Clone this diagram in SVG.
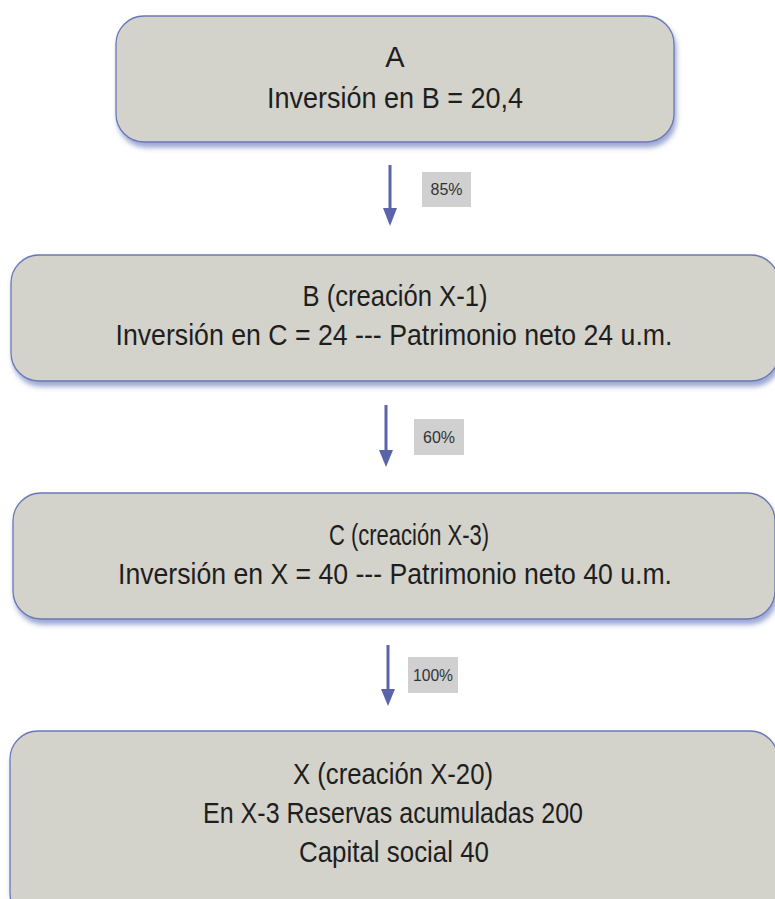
<svg xmlns="http://www.w3.org/2000/svg" width="775" height="899" viewBox="0 0 775 899">
<defs>
<filter id="sh" x="-5%" y="-10%" width="115%" height="130%">
<feDropShadow dx="2" dy="5" stdDeviation="2.5" flood-color="#4f62b0" flood-opacity="0.55"/>
</filter>
</defs>
<style>
.box{fill:#d3d2cb;stroke:#6a78b8;stroke-width:1.3;filter:url(#sh)}
.t{font-family:"Liberation Sans Narrow","Liberation Sans",Arial,sans-serif;font-size:29px;fill:#1e1e1e;text-anchor:middle}
.lbl{fill:#d0d0d0}
.lt{font-family:"Liberation Sans Narrow","Liberation Sans",Arial,sans-serif;font-size:16px;fill:#333;text-anchor:middle}
.ar{stroke:#5a64a8;stroke-width:3;fill:none}
.hd{fill:#5a64a8}
</style>
<rect width="775" height="899" fill="#ffffff"/>
<g id="connectors">
<line class="ar" x1="390" y1="165" x2="390" y2="210"/>
<polygon class="hd" points="383,208 397,208 390,226"/>
<rect class="lbl" x="422" y="172" width="49" height="35"/>
<text class="lt" x="446.5" y="195" textLength="32" lengthAdjust="spacingAndGlyphs">85%</text>
<line class="ar" x1="386" y1="405" x2="386" y2="452"/>
<polygon class="hd" points="379,450 393,450 386,467"/>
<rect class="lbl" x="414" y="419" width="50" height="36"/>
<text class="lt" x="439" y="443" textLength="32" lengthAdjust="spacingAndGlyphs">60%</text>
<line class="ar" x1="388" y1="645" x2="388" y2="692"/>
<polygon class="hd" points="381,689 395,689 388,706"/>
<rect class="lbl" x="408" y="657" width="50" height="36"/>
<text class="lt" x="433" y="681" textLength="40" lengthAdjust="spacingAndGlyphs">100%</text>
</g>
<g id="nodeA">
<rect class="box" x="116" y="16" width="558" height="126" rx="28"/>
<text class="t" x="395" y="67">A</text>
<text class="t" x="395" y="108" textLength="256" lengthAdjust="spacingAndGlyphs">Inversión en B = 20,4</text>
</g>
<g id="nodeB">
<rect class="box" x="11" y="255" width="768" height="126" rx="28"/>
<text class="t" x="395" y="306" textLength="185" lengthAdjust="spacingAndGlyphs">B (creación X-1)</text>
<text class="t" x="394" y="345" textLength="557" lengthAdjust="spacingAndGlyphs">Inversión en C = 24 --- Patrimonio neto 24 u.m.</text>
</g>
<g id="nodeC">
<rect class="box" x="13" y="493" width="762" height="126" rx="28"/>
<text class="t" x="409" y="545" textLength="160" lengthAdjust="spacingAndGlyphs">C (creación X-3)</text>
<text class="t" x="395" y="584" textLength="554" lengthAdjust="spacingAndGlyphs">Inversión en X = 40 --- Patrimonio neto 40 u.m.</text>
</g>
<g id="nodeX">
<rect class="box" x="10" y="731" width="768" height="190" rx="28"/>
<text class="t" x="393" y="784" textLength="200" lengthAdjust="spacingAndGlyphs">X (creación X-20)</text>
<text class="t" x="393" y="823" textLength="380" lengthAdjust="spacingAndGlyphs">En X-3 Reservas acumuladas 200</text>
<text class="t" x="394" y="862" textLength="190" lengthAdjust="spacingAndGlyphs">Capital social 40</text>
</g>
</svg>
